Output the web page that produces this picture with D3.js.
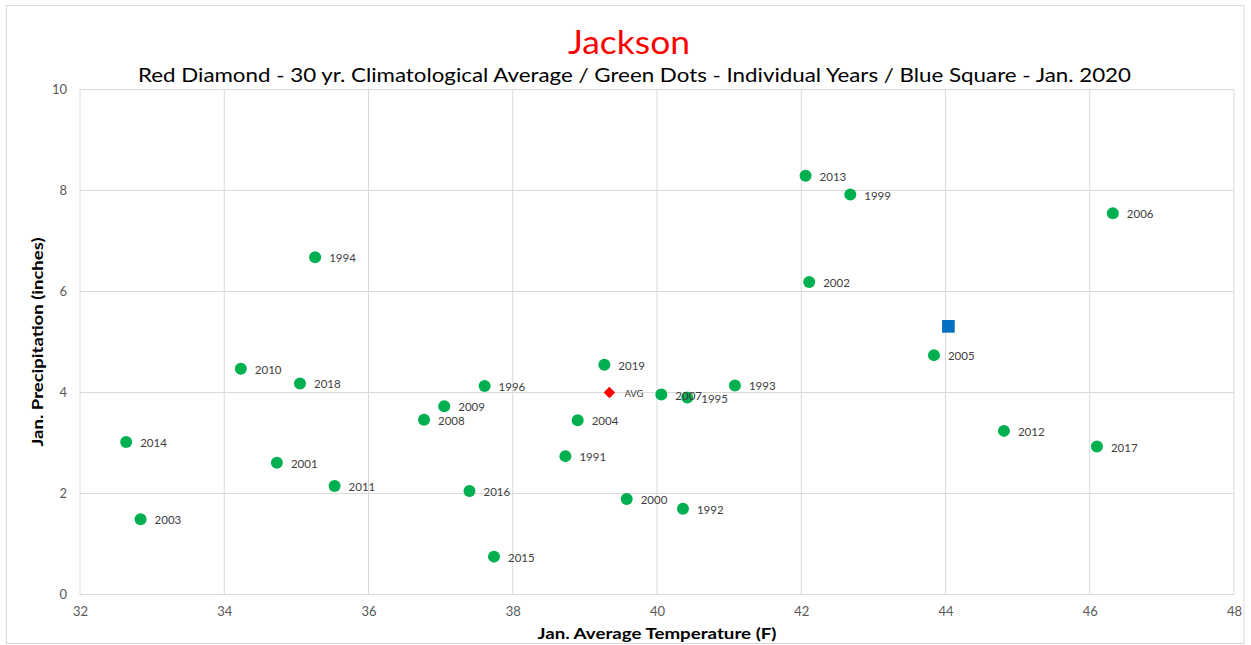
<!DOCTYPE html>
<html>
<head>
<meta charset="utf-8">
<script src="https://cdn.jsdelivr.net/npm/d3@7/dist/d3.min.js"></script>
<style>
  html, body { margin: 0; padding: 0; background: #fff; }
  svg { display: block; font-family: Lato, "Open Sans", sans-serif; }
</style>
</head>
<body>
<svg id="chart" width="1251" height="645"></svg>
<script>
// ---- Data ----
const years = [1991,1992,1993,1994,1995,1996,1999,2000,2001,2002,2003,2004,2005,2006,2007,2008,2009,2010,2011,2012,2013,2014,2015,2016,2017,2018,2019];
const temps = [38.73,40.36,41.08,35.26,40.42,37.61,42.68,39.58,34.73,42.11,32.84,38.90,43.84,46.32,40.06,36.77,37.05,34.23,35.53,44.81,42.06,32.64,37.74,37.40,46.10,35.05,39.27];
const precip = [2.74,1.70,4.14,6.68,3.90,4.13,7.92,1.89,2.61,6.19,1.49,3.45,4.74,7.55,3.96,3.46,3.73,4.47,2.15,3.24,8.29,3.02,0.75,2.05,2.93,4.18,4.55];
const avgPoint = { label: "AVG", temp: 39.34, precip: 4.00 };
const currentPoint = { label: "Jan. 2020", temp: 44.04, precip: 5.31 };
const xTicks = [32,34,36,38,40,42,44,46,48];
const yTicks = [0,2,4,6,8,10];
const titleText = "Jackson";
const subtitleText = "Red Diamond - 30 yr. Climatological Average / Green Dots - Individual Years / Blue Square - Jan. 2020";
const xTitle = "Jan. Average Temperature (F)";
const yTitle = "Jan. Precipitation (inches)";

// ---- Layout ----
const svg = d3.select("#chart");
const plot = { left: 80, right: 1234, top: 89.5, bottom: 594.5 };
const x = d3.scaleLinear().domain([32, 48]).range([plot.left, plot.right]);
const y = d3.scaleLinear().domain([0, 10]).range([plot.bottom, plot.top]);

// outer border
svg.append("rect").attr("x", 6.5).attr("y", 5.5).attr("width", 1237.5).attr("height", 638)
  .attr("fill", "#fff").attr("stroke", "#d9d9d9").attr("stroke-width", 1);

// gridlines
const grid = svg.append("g");
grid.selectAll("line.v").data(xTicks).join("line")
  .attr("x1", d => x(d)).attr("x2", d => x(d))
  .attr("y1", plot.top).attr("y2", plot.bottom)
  .attr("stroke", "#d9d9d9").attr("stroke-width", 1);
grid.selectAll("line.h").data(yTicks).join("line")
  .attr("x1", plot.left).attr("x2", plot.right)
  .attr("y1", d => y(d)).attr("y2", d => y(d))
  .attr("stroke", "#d9d9d9").attr("stroke-width", 1);

// axes (tick labels via d3 axes)
const xAxis = svg.append("g").attr("transform", `translate(0,${plot.bottom})`)
  .call(d3.axisBottom(x).tickValues(xTicks).tickSize(0).tickPadding(12).tickFormat(d3.format("d")));
const yAxis = svg.append("g").attr("transform", `translate(${plot.left},0)`)
  .call(d3.axisLeft(y).tickValues(yTicks).tickSize(0).tickPadding(13).tickFormat(d3.format("d")));
[xAxis, yAxis].forEach(a => {
  a.select(".domain").remove();
  a.selectAll("text").attr("fill", "#595959").style("font-size", "13px")
    .style("font-family", "Lato, 'Open Sans', sans-serif");
});

// titles
svg.append("text").attr("x", 629).attr("y", 54).attr("text-anchor", "middle")
  .attr("fill", "#ff0000").style("font-size", "32px")
  .attr("textLength", 122).attr("lengthAdjust", "spacingAndGlyphs").text(titleText);
svg.append("text").attr("x", 634.5).attr("y", 82).attr("text-anchor", "middle")
  .attr("fill", "#000").style("font-size", "20px")
  .attr("textLength", 993).attr("lengthAdjust", "spacingAndGlyphs").text(subtitleText);
svg.append("text").attr("x", 657).attr("y", 639).attr("text-anchor", "middle")
  .attr("fill", "#000").style("font-size", "16px").style("font-weight", "bold")
  .attr("textLength", 239).attr("lengthAdjust", "spacingAndGlyphs").text(xTitle);
svg.append("text").attr("transform", "translate(43,342) rotate(-90)").attr("text-anchor", "middle")
  .attr("fill", "#000").style("font-size", "16px").style("font-weight", "bold")
  .attr("textLength", 209).attr("lengthAdjust", "spacingAndGlyphs").text(yTitle);

// data
const pts = years.map((yr, i) => ({ year: yr, t: temps[i], p: precip[i] }));
const g = svg.append("g");
g.selectAll("circle").data(pts).join("circle")
  .attr("cx", d => x(d.t)).attr("cy", d => y(d.p)).attr("r", 6)
  .attr("fill", "#00b050");
g.selectAll("text.lbl").data(pts).join("text").attr("class", "lbl")
  .attr("x", d => x(d.t) + 14).attr("y", d => y(d.p) + 5)
  .attr("fill", "#404040").style("font-size", "11.5px").text(d => d.year);

// AVG diamond
g.append("path")
  .attr("d", d3.symbol().type(d3.symbolDiamond2).size(85)())
  .attr("transform", `translate(${x(avgPoint.temp)},${y(avgPoint.precip)})`)
  .attr("fill", "#ff0000");
g.append("text").attr("x", x(avgPoint.temp) + 15).attr("y", y(avgPoint.precip) + 4)
  .attr("fill", "#404040").style("font-size", "9.5px").text(avgPoint.label);

// Jan 2020 square
g.append("path")
  .attr("d", d3.symbol().type(d3.symbolSquare).size(160)())
  .attr("transform", `translate(${x(currentPoint.temp)},${y(currentPoint.precip)})`)
  .attr("fill", "#0070c0");
</script>
</body>
</html>
